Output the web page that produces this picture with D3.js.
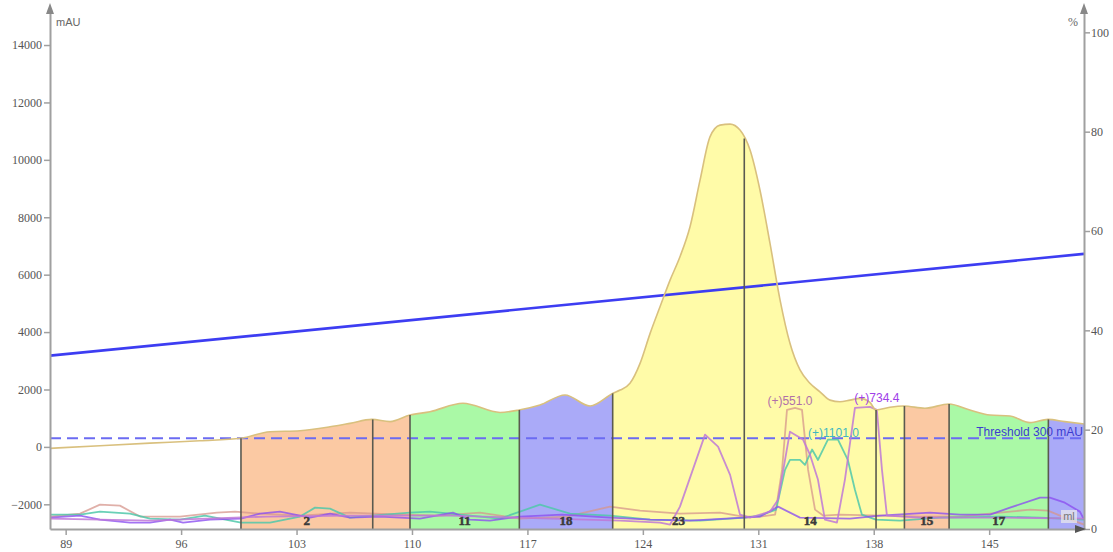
<!DOCTYPE html>
<html><head><meta charset="utf-8">
<script src="https://cdn.jsdelivr.net/npm/d3@7"></script>
<style>html,body{margin:0;padding:0;background:#fff;} svg{display:block;}</style>
</head><body>
<svg id="chart" width="1113" height="552"></svg>
<script>
// ---------------- DATA ----------------
const uvVolume = [88.05,91.08,94.11,97.14,99.63,101.39,103.21,105.03,106.24,107.57,108.67,109.88,111.09,113.09,115.34,116.49,117.76,119.28,120.80,122.19,122.62,123.22,123.83,124.44,125.04,125.65,126.25,126.86,127.47,128.07,128.68,129.29,129.89,130.50,131.10,131.71,132.32,132.92,133.53,134.13,134.74,135.35,135.95,136.56,137.17,137.77,138.13,138.98,139.83,141.10,142.56,143.83,145.05,146.26,147.47,148.56,149.59,150.75];
const uvAbs    = [-50,40,130,215,300,530,565,700,820,960,880,1110,1225,1520,1200,1285,1460,1810,1425,1870,1980,2215,2910,3955,4880,5810,6625,7670,9300,10800,11210,11245,11040,10340,8950,7090,5115,3610,2680,2215,1920,1630,1575,1630,1690,1550,1285,1380,1425,1345,1495,1285,1110,1075,845,960,880,800];

const gradientVolume = [88.05, 150.75];
const gradientPct    = [34.9, 55.4];

const thresholdValue = 300;
const thresholdLabel = "Threshold 300 mAU";

const fracStart = [99.63,107.62,109.88,116.51,122.17,130.15,138.14,139.86,142.57,148.59];
const fracEnd = 150.75;
const fracLabel = ["2","","11","18","23","14","","15","17",""];

// secondary traces (% scale)
const roseVol = [88.05,89.87,91.08,92.29,93.51,95.93,98.17,99.27,100.78,103.21,106.24,109.27,111.70,114.12,116.55,119.40,122.01,123.83,126.25,128.68,130.08,131.11,132.02,132.44,132.74,133.23,133.65,134.02,134.44,134.93,135.95,138.38,140.80,143.23,145.66,147.47,148.56,149.59,150.75];
const rosePct = [2.5,3.1,4.9,4.7,2.5,2.5,3.3,3.5,3.1,2.7,3.3,2.9,2.7,3.3,2.1,2.5,4.5,3.7,3.1,3.3,2.5,2.5,2.9,11.9,24.0,24.4,24.0,11.9,3.9,2.7,2.9,2.7,2.5,2.5,3.3,3.9,3.7,2.3,0.9];

const tealVol = [88.05,89.87,91.08,92.90,94.11,95.93,97.45,99.63,101.39,103.21,104.12,105.03,106.24,107.57,109.88,111.09,112.91,115.34,117.76,119.58,122.01,124.44,127.47,130.20,131.11,132.08,132.62,132.92,133.53,133.83,134.26,134.62,135.22,135.83,136.43,136.86,137.28,138.13,139.59,142.01,145.66,148.08,150.75];
const tealPct = [2.9,2.9,3.5,3.1,2.1,1.9,2.7,1.3,1.3,2.5,4.3,4.1,2.3,2.7,3.3,3.5,2.9,2.1,4.9,3.1,2.7,1.9,1.7,2.3,2.7,3.9,11.9,13.9,13.9,12.9,16.0,13.9,18.0,18.0,13.9,7.9,2.9,1.9,1.7,2.3,2.5,2.3,1.9];

const purpleVol = [88.05,89.87,91.08,92.90,94.11,95.33,96.12,97.75,99.63,100.78,101.99,103.82,105.03,106.24,108.06,110.48,112.48,113.51,114.73,116.55,119.10,122.01,124.44,126.86,130.08,131.11,132.20,133.53,136.56,138.38,141.41,143.23,145.05,146.26,148.08,148.68,149.59,150.50,150.75];
const purplePct = [2.3,2.7,1.9,1.3,1.3,1.9,1.3,1.9,2.1,3.1,3.5,2.3,3.1,2.3,2.5,2.1,3.3,1.9,1.7,2.5,2.9,2.3,1.9,1.7,2.3,2.5,4.5,2.3,2.1,2.7,3.3,2.9,2.9,4.3,6.3,6.3,5.3,3.5,1.9];

const plumVol = [88.05,94.11,101.18,106.24,112.30,118.37,122.62,125.04,125.65,126.25,127.77,128.56,129.29,129.89,130.50,131.71,132.20,132.92,133.71,134.13,134.62,135.04,135.77,136.25,136.86,137.77,138.19,138.50,138.80,140.80,145.66,150.75];
const plumPct = [2.1,1.7,2.5,2.7,2.7,2.1,1.7,1.3,0.9,4.5,19.0,16.6,10.9,2.9,2.3,3.5,5.9,19.6,18.0,15.0,9.9,1.9,1.3,9.9,24.4,24.6,24.0,11.9,2.7,2.3,2.3,2.1];

const peakLabels = ["(+)551.0", "(+)1101.0", "(+)734.4"];
const peakVol    = [132.92, 135.56, 138.19];
const peakPct    = [25.0, 18.6, 25.6];

const leftTicks  = [-2000,0,2000,4000,6000,8000,10000,12000,14000];
const rightTicks = [0,20,40,60,80,100];
const xTicks     = [89,96,103,110,117,124,131,138,145];
const leftUnit = "mAU", rightUnit = "%", xUnit = "ml";

// ---------------- STYLE ----------------
const FRAC_FILL = ["#FBC9A3","#FBC9A3","#AAF9A6","#AAAAF8","#FFFBA8","#FFFBA8","#FFFBA8","#FBC9A3","#AAF9A6","#AAAAF8"];
const L = 50, R = 1084, T = 8, B = 529;

const svg = d3.select("#chart");
const x = d3.scaleLinear().domain([88.05, 150.75]).range([L, R]);
const y = d3.scaleLinear().domain([-2860, 15290]).range([B, T]);
const yr = d3.scaleLinear().domain([0, 104.9]).range([B, T]);

const uv = uvVolume.map((v,i)=>[v, uvAbs[i]]);
function uvAt(v){
  const i = d3.bisectLeft(uvVolume, v);
  if (i<=0) return uvAbs[0];
  if (i>=uvVolume.length) return uvAbs[uvAbs.length-1];
  const t = (v-uvVolume[i-1])/(uvVolume[i]-uvVolume[i-1]);
  return uvAbs[i-1] + t*(uvAbs[i]-uvAbs[i-1]);
}

const defs = svg.append("defs");
defs.append("clipPath").attr("id","plot").append("rect")
  .attr("x",L).attr("y",T).attr("width",R-L).attr("height",B-T);

const curve = d3.curveMonotoneX;
const area = d3.area().x(d=>x(d[0])).y0(B).y1(d=>y(d[1])).curve(curve);
const line = d3.line().x(d=>x(d[0])).y(d=>y(d[1])).curve(curve);

const plot = svg.append("g").attr("clip-path","url(#plot)");

// fraction fills
fracStart.forEach((s,i)=>{
  const e = i+1<fracStart.length ? fracStart[i+1] : fracEnd;
  const id = "fc"+i;
  defs.append("clipPath").attr("id",id).append("rect")
    .attr("x",x(s)).attr("y",T).attr("width",x(e)-x(s)).attr("height",B-T);
  plot.append("path").datum(uv).attr("d",area)
    .attr("fill",FRAC_FILL[i]).attr("clip-path",`url(#${id})`);
});

// threshold
plot.append("line").attr("x1",L).attr("x2",R)
  .attr("y1",y(thresholdValue)).attr("y2",y(thresholdValue))
  .attr("stroke","#6B6BF2").attr("stroke-width",2).attr("stroke-dasharray","11,6");

// traces
const lineP = d3.line().x(d=>x(d[0])).y(d=>yr(d[1]));
function trace(vol, pct, color, w){
  plot.append("path").datum(vol.map((v,i)=>[v,pct[i]])).attr("d",lineP)
    .attr("fill","none").attr("stroke",color).attr("stroke-width",w).attr("stroke-linejoin","round");
}
trace(roseVol, rosePct, "rgba(214,150,140,0.75)", 1.8);
trace(tealVol, tealPct, "rgba(80,200,170,0.85)", 1.8);
trace(purpleVol, purplePct, "rgba(140,80,240,0.8)", 1.8);
trace(plumVol, plumPct, "rgba(190,120,215,0.85)", 1.8);

// gradient
plot.append("line")
  .attr("x1",x(gradientVolume[0])).attr("y1",yr(gradientPct[0]))
  .attr("x2",x(gradientVolume[1])).attr("y2",yr(gradientPct[1]))
  .attr("stroke","#3D3DF2").attr("stroke-width",2.6);

// UV curve
plot.append("path").datum(uv).attr("d",line)
  .attr("fill","none").attr("stroke","#D9C07E").attr("stroke-width",1.6);

// separators
fracStart.forEach(s=>{
  plot.append("line").attr("x1",x(s)).attr("x2",x(s))
    .attr("y1",B).attr("y2",y(uvAt(s)))
    .attr("stroke","#5a5a50").attr("stroke-width",1.6);
});

// fraction labels
fracStart.forEach((s,i)=>{
  if(!fracLabel[i]) return;
  const e = i+1<fracStart.length ? fracStart[i+1] : fracEnd;
  svg.append("text").attr("x",(x(s)+x(e))/2).attr("y",B-4)
    .attr("text-anchor","middle").attr("font-family","Liberation Serif")
    .attr("font-weight","bold").attr("font-size",13)
    .attr("fill","#3a3a3a").attr("stroke","#3a3a3a").attr("stroke-width",0.5)
    .text(fracLabel[i]);
});

// peak labels
const peakColors = ["#B070A8","#3FB8C0","#A040E8"];
peakLabels.forEach((t,i)=>{
  svg.append("text").attr("x",x(peakVol[i])).attr("y",yr(peakPct[i]))
    .attr("text-anchor","middle").attr("font-family","Liberation Sans").attr("font-size",12)
    .attr("fill",peakColors[i]).text(t);
});

// threshold label
svg.append("text").attr("x",R-1).attr("y",y(thresholdValue)-2)
  .attr("text-anchor","end").attr("font-family","Liberation Sans").attr("font-size",12)
  .attr("fill","#3C3CD0").text(thresholdLabel);

// axes
const axisColor = "#A0A0A0";
function styleAxis(g){
  g.selectAll(".domain").attr("stroke",axisColor).attr("stroke-width",2);
  g.selectAll(".tick line").attr("stroke",axisColor).attr("stroke-width",1.5);
  g.selectAll(".tick text").attr("fill","#555").attr("font-family","Liberation Serif").attr("font-size",12);
}
const gl = svg.append("g").attr("transform",`translate(${L},0)`)
  .call(d3.axisLeft(y).tickValues(leftTicks).tickSize(6).tickSizeOuter(0).tickPadding(2).tickFormat(d3.format("d")));
styleAxis(gl);
const gr = svg.append("g").attr("transform",`translate(${R},0)`)
  .call(d3.axisRight(yr).tickValues(rightTicks).tickSize(6).tickSizeOuter(0).tickPadding(1));
styleAxis(gr);
const gx = svg.append("g").attr("transform",`translate(0,${B})`)
  .call(d3.axisBottom(x).tickValues(xTicks).tickSize(6).tickSizeOuter(0).tickPadding(4));
styleAxis(gx);

// arrows
svg.append("path").attr("d",`M${L},${T-5}L${L-4},${T+6}L${L+4},${T+6}Z`).attr("fill","#888");
svg.append("path").attr("d",`M${R},${T-5}L${R-4},${T+6}L${R+4},${T+6}Z`).attr("fill","#888");
svg.append("path").attr("d",`M${R+2},${B}L${R-9},${B-4}L${R-9},${B+4}Z`).attr("fill","#555");

// unit labels
svg.append("text").attr("x",L+6).attr("y",T+18).attr("font-family","Liberation Sans").attr("font-size",11)
  .attr("fill","#666").text(leftUnit);
svg.append("text").attr("x",R-16).attr("y",T+18).attr("font-family","Liberation Serif").attr("font-size",12)
  .attr("fill","#666").text(rightUnit);
svg.append("rect").attr("x",R-23).attr("y",B-19).attr("width",16).attr("height",13)
  .attr("fill","rgba(235,235,235,0.7)");
svg.append("text").attr("x",R-15).attr("y",B-9).attr("text-anchor","middle")
  .attr("font-family","Liberation Sans").attr("font-size",11).attr("fill","#777").text(xUnit);
</script>
</body></html>
